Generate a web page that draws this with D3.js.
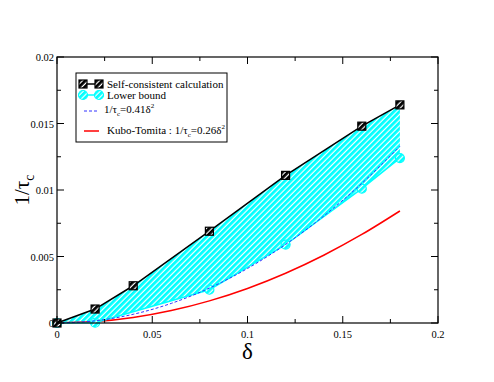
<!DOCTYPE html>
<html>
<head>
<meta charset="UTF-8">
<script src="https://cdn.jsdelivr.net/npm/d3@7"></script>
<style>
  body { margin: 0; background: #fff; }
</style>
</head>
<body>
<div id="chart"></div>
<script>
// data
const scX = [0, 0.02, 0.04, 0.08, 0.12, 0.16, 0.18];
const scY = [0, 0.00105, 0.0028, 0.0069, 0.0111, 0.0148, 0.0164];
const lbX = [0, 0.02, 0.08, 0.12, 0.16, 0.18];
const lbY = [0, 0.00002, 0.0025, 0.0059, 0.0101, 0.0124];
const fitX = [0, 0.02, 0.04, 0.06, 0.08, 0.10, 0.12, 0.14, 0.16, 0.18];
const fitY = [0, 0.000164, 0.000656, 0.001476, 0.002624, 0.0041, 0.005904, 0.008036, 0.010496, 0.013284];
const kuboY = [0, 0.000104, 0.000416, 0.000936, 0.001664, 0.0026, 0.003744, 0.005096, 0.006656, 0.008424];
const xTicks = [0, 0.05, 0.1, 0.15, 0.2];
const yTicks = [0, 0.005, 0.01, 0.015, 0.02];

const W = 494, H = 382;
const m = {left: 57, right: 56, top: 57, bottom: 59};
const FONT = "'Liberation Serif', 'DejaVu Serif', serif";

const svg = d3.select("#chart").append("svg")
    .attr("width", W).attr("height", H)
    .attr("font-family", FONT);

const x = d3.scaleLinear().domain([0, 0.2]).range([m.left, W - m.right]);
const y = d3.scaleLinear().domain([0, 0.02]).range([H - m.bottom, m.top]);

// hatch patterns
const defs = svg.append("defs");
function hatch(id, col, w) {
    const p = defs.append("pattern").attr("id", id)
        .attr("patternUnits", "userSpaceOnUse")
        .attr("width", 4).attr("height", 4)
        .attr("patternTransform", "rotate(45)");
    p.append("rect").attr("width", 4).attr("height", 4).attr("fill", "#fff");
    p.append("rect").attr("width", w).attr("height", 4).attr("fill", col);
}
hatch("hcyan", "#00ffff", 2.8);
hatch("hblack", "#000", 2.8);

// fill between the two data sets
const sc = scX.map((d, i) => [d, scY[i]]);
const lb = lbX.map((d, i) => [d, lbY[i]]);
const poly = sc.concat(lb.slice().reverse());
svg.append("path")
    .attr("d", d3.line().x(d => x(d[0])).y(d => y(d[1]))(poly) + "Z")
    .attr("fill", "url(#hcyan)");

const line = d3.line().x(d => x(d[0])).y(d => y(d[1]));
const smooth = d3.line().x(d => x(d[0])).y(d => y(d[1])).curve(d3.curveMonotoneX);

// kubo-tomita
svg.append("path").datum(fitX.map((d, i) => [d, kuboY[i]]))
    .attr("d", smooth).attr("fill", "none")
    .attr("stroke", "#ff0000").attr("stroke-width", 1.5);

// lower bound
svg.append("path").datum(lb).attr("d", line).attr("fill", "none")
    .attr("stroke", "#00ffff").attr("stroke-width", 1.5);
svg.selectAll(".lb").data(lb).join("circle")
    .attr("cx", d => x(d[0])).attr("cy", d => y(d[1])).attr("r", 4.5)
    .attr("fill", "url(#hcyan)").attr("stroke", "#00ffff").attr("stroke-width", 1.2);

// 0.41 fit, dashed
svg.append("path").datum(fitX.map((d, i) => [d, fitY[i]]))
    .attr("d", smooth).attr("fill", "none")
    .attr("stroke", "#3333ff").attr("stroke-width", 1).attr("stroke-dasharray", "3,2");

// self-consistent
svg.append("path").datum(sc).attr("d", line).attr("fill", "none")
    .attr("stroke", "#000").attr("stroke-width", 1.5);
svg.selectAll(".sc").data(sc).join("rect")
    .attr("x", d => x(d[0]) - 4).attr("y", d => y(d[1]) - 4)
    .attr("width", 8).attr("height", 8)
    .attr("fill", "url(#hblack)").attr("stroke", "#000").attr("stroke-width", 1.2);

// frame and ticks
svg.append("rect").attr("x", m.left).attr("y", m.top)
    .attr("width", W - m.left - m.right).attr("height", H - m.top - m.bottom)
    .attr("fill", "none").attr("stroke", "#000").attr("stroke-width", 1.2);

const xMinor = d3.range(0, 0.2001, 0.025);
const yMinor = d3.range(0, 0.02001, 0.0025);
const tk = svg.append("g").attr("stroke", "#000").attr("stroke-width", 1);
xMinor.forEach((v, i) => {
    const L = i % 2 === 0 ? 7 : 4;
    tk.append("line").attr("x1", x(v)).attr("x2", x(v)).attr("y1", y(0)).attr("y2", y(0) - L);
    tk.append("line").attr("x1", x(v)).attr("x2", x(v)).attr("y1", y(0.02)).attr("y2", y(0.02) + L);
});
yMinor.forEach((v, i) => {
    const L = i % 2 === 0 ? 7 : 4;
    tk.append("line").attr("y1", y(v)).attr("y2", y(v)).attr("x1", x(0)).attr("x2", x(0) + L);
    tk.append("line").attr("y1", y(v)).attr("y2", y(v)).attr("x1", x(0.2)).attr("x2", x(0.2) - L);
});

svg.selectAll(".xt").data(xTicks).join("text")
    .attr("x", d => x(d)).attr("y", y(0) + 15)
    .attr("text-anchor", "middle").attr("font-size", 10.5)
    .text(d => d === 0 ? "0" : d3.format("")(d));
svg.selectAll(".yt").data(yTicks).join("text")
    .attr("x", x(0) - 3).attr("y", d => y(d) + 4)
    .attr("text-anchor", "end").attr("font-size", 10.5)
    .text(d => d === 0 ? "0" : d3.format("")(d));

// axis titles
svg.append("text").attr("x", x(0.1)).attr("y", 359)
    .attr("text-anchor", "middle").attr("font-size", 23).text("δ");
const yl = svg.append("text").attr("transform", "translate(29,190) rotate(-90)")
    .attr("text-anchor", "middle").attr("font-size", 21);
yl.append("tspan").text("1/τ");
yl.append("tspan").attr("font-size", 14).attr("dy", 5).text("c");

// legend
const lg = svg.append("g");
lg.append("rect").attr("x", 76).attr("y", 73).attr("width", 151).attr("height", 69)
    .attr("fill", "#fff").attr("stroke", "#000").attr("stroke-width", 1);
const fs = 11;
// row 1
lg.append("line").attr("x1", 83).attr("x2", 99).attr("y1", 84).attr("y2", 84)
    .attr("stroke", "#000").attr("stroke-width", 1.5);
[83, 99].forEach(cx => lg.append("rect").attr("x", cx - 4).attr("y", 80).attr("width", 8).attr("height", 8)
    .attr("fill", "url(#hblack)").attr("stroke", "#000").attr("stroke-width", 1.2));
lg.append("text").attr("x", 107).attr("y", 88).attr("font-size", fs).text("Self-consistent calculation");
// row 2
lg.append("line").attr("x1", 83).attr("x2", 99).attr("y1", 95).attr("y2", 95)
    .attr("stroke", "#00ffff").attr("stroke-width", 1.5);
[83, 99].forEach(cx => lg.append("circle").attr("cx", cx).attr("cy", 95).attr("r", 4.5)
    .attr("fill", "url(#hcyan)").attr("stroke", "#00ffff").attr("stroke-width", 1.2));
lg.append("text").attr("x", 107).attr("y", 99).attr("font-size", fs).text("Lower bound");
// row 3
lg.append("line").attr("x1", 84).attr("x2", 99).attr("y1", 111).attr("y2", 111)
    .attr("stroke", "#3333ff").attr("stroke-width", 1).attr("stroke-dasharray", "3,2");
const t3 = lg.append("text").attr("x", 104).attr("y", 113).attr("font-size", fs);
t3.append("tspan").text("1/τ");
t3.append("tspan").attr("font-size", 7).attr("dy", 3).text("c");
t3.append("tspan").attr("dy", -3).text("=0.41δ");
t3.append("tspan").attr("font-size", 7).attr("dy", -5).text("2");
// row 4
lg.append("line").attr("x1", 84).attr("x2", 99).attr("y1", 131).attr("y2", 131)
    .attr("stroke", "#ff0000").attr("stroke-width", 1.5);
const t4 = lg.append("text").attr("x", 107).attr("y", 134).attr("font-size", fs);
t4.append("tspan").text("Kubo-Tomita : 1/τ");
t4.append("tspan").attr("font-size", 7).attr("dy", 3).text("c");
t4.append("tspan").attr("dy", -3).text("=0.26δ");
t4.append("tspan").attr("font-size", 7).attr("dy", -5).text("2");
</script>
</body>
</html>
